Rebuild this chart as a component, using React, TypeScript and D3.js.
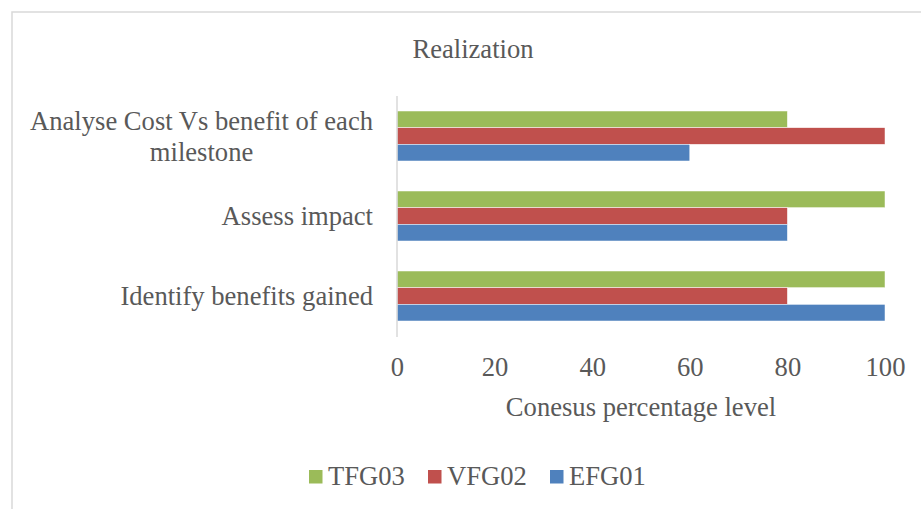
import React, { useEffect, useRef } from 'react';
import * as d3 from 'd3';

const categories = [
  'Analyse Cost Vs benefit of each milestone',
  'Assess impact',
  'Identify benefits gained',
];
const seriesNames = ['TFG03', 'VFG02', 'EFG01'];
const seriesColors = ['#9BBB59', '#C0504D', '#4F81BD'];
const tfg03 = [80, 100, 100];
const vfg02 = [100, 80, 80];
const efg01 = [60, 80, 100];
const xTicks = [0, 20, 40, 60, 80, 100];

const W = 921;
const H = 509;
const FONT = '"Liberation Serif", "Times New Roman", serif';
const FS = 26.6;
const TEXT = '#595959';

const App: React.FC = () => {
  const svgRef = useRef<SVGSVGElement>(null);

  useEffect(() => {
    if (!svgRef.current) return;
    const svg = d3.select(svgRef.current);
    svg.selectAll('*').remove();

    const values = [tfg03, vfg02, efg01];
    const margin = { left: 397, right: 36, top: 96, bottom: 173 };

    const x = d3.scaleLinear().domain([0, 100]).range([margin.left, W - margin.right]);
    const y = d3.scaleBand<string>()
      .domain(categories)
      .range([margin.top, H - margin.bottom])
      .paddingInner(0.375)
      .paddingOuter(0.1875);
    const ySub = d3.scaleBand<string>().domain(seriesNames).range([0, y.bandwidth()]);

    // chart border (only top/left visible in the crop)
    svg.append('path')
      .attr('d', `M12,${H + 2}V12H${W + 2}`)
      .attr('fill', 'none')
      .attr('stroke', '#d9d9d9')
      .attr('stroke-width', 1.5);

    svg.append('text')
      .attr('x', 473)
      .attr('y', 58)
      .attr('text-anchor', 'middle')
      .attr('font-family', FONT)
      .attr('font-size', FS)
      .attr('fill', TEXT)
      .text('Realization');

    // bars
    const g = svg.append('g');
    categories.forEach((cat, ci) => {
      seriesNames.forEach((s, si) => {
        g.append('rect')
          .attr('x', x(0))
          .attr('y', (y(cat) ?? 0) + (ySub(s) ?? 0))
          .attr('width', x(values[si][ci]) - x(0))
          .attr('height', ySub.bandwidth())
          .attr('fill', seriesColors[si])
          .attr('stroke', '#ffffff')
          .attr('stroke-width', 0.5);
      });
    });

    // vertical axis line
    svg.append('line')
      .attr('x1', x(0)).attr('x2', x(0))
      .attr('y1', margin.top).attr('y2', H - margin.bottom + 1)
      .attr('stroke', '#d9d9d9')
      .attr('stroke-width', 1.5);

    // x tick labels
    const xAxis = svg.append('g')
      .attr('transform', `translate(0,${H - margin.bottom})`)
      .call(d3.axisBottom(x).tickValues(xTicks).tickSize(0).tickPadding(0).tickFormat(d3.format('d')));
    xAxis.select('.domain').remove();
    xAxis.selectAll('text')
      .attr('y', 40)
      .attr('dy', null)
      .attr('font-family', FONT)
      .attr('font-size', FS)
      .attr('fill', TEXT);

    svg.append('text')
      .attr('x', (x(0) + x(100)) / 2)
      .attr('y', 416)
      .attr('text-anchor', 'middle')
      .attr('font-family', FONT)
      .attr('font-size', FS)
      .attr('fill', TEXT)
      .text('Conesus percentage level');

    // category labels, wrapped, lines centred, block right-aligned
    const labelRight = 373;
    const maxW = 350;
    const lineH = 31;
    categories.forEach((cat) => {
      const t = svg.append('text')
        .attr('font-family', FONT)
        .attr('font-size', FS)
        .attr('fill', TEXT)
        .attr('text-anchor', 'middle');
      const words = cat.split(' ');
      const lines: string[] = [];
      let cur: string[] = [];
      const probe = t.append('tspan');
      words.forEach((w) => {
        const trial = [...cur, w].join(' ');
        probe.text(trial);
        if ((probe.node() as SVGTSpanElement).getComputedTextLength() > maxW && cur.length) {
          lines.push(cur.join(' '));
          cur = [w];
        } else {
          cur.push(w);
        }
      });
      lines.push(cur.join(' '));
      let widest = 0;
      lines.forEach((l) => {
        probe.text(l);
        widest = Math.max(widest, (probe.node() as SVGTSpanElement).getComputedTextLength());
      });
      probe.remove();
      const cx = labelRight - widest / 2;
      const cy = (y(cat) ?? 0) + y.bandwidth() / 2;
      const first = cy + 9 - ((lines.length - 1) * lineH) / 2;
      lines.forEach((l, i) => {
        t.append('tspan').attr('x', cx).attr('y', first + i * lineH).text(l);
      });
    });

    // legend
    const legendX = [309, 428, 550];
    seriesNames.forEach((s, i) => {
      svg.append('rect')
        .attr('x', legendX[i])
        .attr('y', 470)
        .attr('width', 13.5)
        .attr('height', 13.5)
        .attr('fill', seriesColors[i]);
      svg.append('text')
        .attr('x', legendX[i] + 19)
        .attr('y', 485)
        .attr('font-family', FONT)
        .attr('font-size', FS)
        .attr('fill', TEXT)
        .text(s);
    });
  }, []);

  return (
    <svg
      ref={svgRef}
      width={W}
      height={H}
      style={{ position: 'absolute', left: 0, top: 0, background: '#ffffff' }}
    />
  );
};

export default App;
